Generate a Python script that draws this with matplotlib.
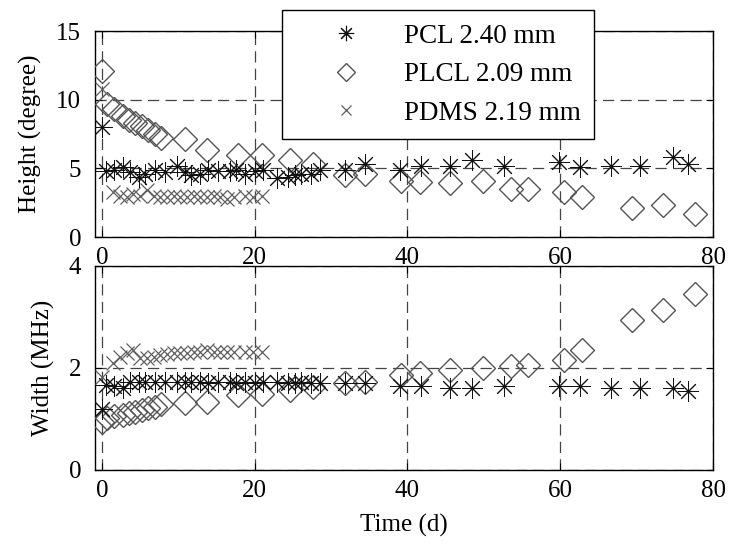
import matplotlib
matplotlib.use("Agg")
import matplotlib.pyplot as plt
from matplotlib.lines import Line2D

plt.rcParams['font.family'] = ['Liberation Serif', 'DejaVu Serif']
plt.rcParams['mathtext.fontset'] = 'stix'

# ---------------- data ----------------
pcl_days = [0, 0.6, 1.6, 2.8, 3.7, 4.8, 5.6, 6.9, 8.2, 9.8, 10.9, 11.7, 12.8, 13.9,
            15.2, 16.8, 17.6, 18.7, 20.0, 21.1, 22.9, 24.4, 25.3, 26.1, 27.4, 28.5,
            31.8, 34.4, 39.0, 41.8, 45.6, 48.4, 52.7, 59.8, 62.6, 66.6, 70.5, 74.7, 76.7]
pcl_height = [8.0, 4.8, 4.9, 5.1, 4.7, 4.4, 4.6, 4.9, 4.7, 5.2, 4.7, 4.5, 4.6, 4.9,
              4.8, 4.8, 4.9, 4.6, 4.8, 4.9, 4.3, 4.4, 4.5, 4.6, 4.6, 4.85,
              4.85, 5.35, 4.85, 5.2, 5.2, 5.6, 5.2, 5.45, 5.1, 5.2, 5.2, 5.8, 5.35]
pcl_width = [1.2, 1.67, 1.65, 1.6, 1.73, 1.72, 1.72, 1.73, 1.72, 1.73, 1.72, 1.72, 1.72, 1.71,
             1.72, 1.72, 1.71, 1.72, 1.71, 1.72, 1.72, 1.71, 1.7, 1.72, 1.7, 1.7,
             1.7, 1.7, 1.65, 1.65, 1.6, 1.6, 1.65, 1.65, 1.65, 1.6, 1.6, 1.6, 1.55]

plcl_days = [0, 0.7, 1.6, 2.7, 3.5, 4.3, 5.2, 6.0, 6.9, 7.8, 10.9, 13.7, 17.8, 21.0,
             24.6, 27.7, 31.8, 34.4, 39.1, 41.6, 45.6, 49.9, 53.5, 55.8, 60.5, 62.9,
             69.4, 73.5, 77.7]
plcl_height = [12.1, 9.7, 9.3, 8.8, 8.5, 8.3, 8.1, 7.8, 7.5, 7.2, 7.1, 6.3, 6.0, 6.0,
               5.6, 5.3, 4.5, 4.6, 4.1, 4.0, 3.9, 4.1, 3.5, 3.5, 3.3, 2.9,
               2.1, 2.3, 1.7]
plcl_width = [0.95, 1.01, 1.05, 1.08, 1.11, 1.14, 1.18, 1.21, 1.24, 1.3, 1.31, 1.34, 1.47, 1.5,
              1.57, 1.63, 1.7, 1.73, 1.86, 1.9, 1.96, 2.0, 2.03, 2.06, 2.16, 2.35,
              2.94, 3.14, 3.46]

pdms_days = [0, 1.5, 2.4, 3.3, 4.1, 5.0, 5.9, 6.8, 7.6, 8.5, 9.4, 10.2, 11.1, 12.0,
             12.9, 13.8, 14.7, 15.5, 16.4, 17.3, 18.7, 19.8, 21.0]
pdms_height = [10.8, 3.3, 3.0, 2.9, 3.1, 3.0, 3.4, 3.0, 2.9, 2.9, 3.0, 2.9, 2.9, 3.0,
               2.9, 2.9, 3.0, 2.9, 2.8, 2.9, 3.0, 2.9, 3.0]
pdms_width = [1.83, 2.09, 2.22, 2.29, 2.35, 2.19, 2.19, 2.22, 2.25, 2.27, 2.29, 2.29, 2.29, 2.32,
              2.32, 2.35, 2.32, 2.32, 2.32, 2.32, 2.32, 2.32, 2.32]

labels = ['PCL 2.40 mm', 'PLCL 2.09 mm', 'PDMS 2.19 mm']
x_ticks = [0, 20, 40, 60, 80]
h_ticks = [0, 5, 10, 15]
w_ticks = [0, 2, 4]

# ---------------- figure ----------------
W, H = 730, 545
fig = plt.figure(figsize=(W / 100, H / 100), dpi=100)

def fx(px):
    return px / W

def fy(py):
    return 1 - py / H

ax1 = fig.add_axes([fx(95), fy(237), fx(713) - fx(95), fy(31) - fy(237)])
ax2 = fig.add_axes([fx(95), fy(470), fx(713) - fx(95), fy(266) - fy(470)])

ast = (8, 2, 0)
dia_col = '#555555'
x_col = '#5f5f5f'

for ax, pcl, plcl, pdms in [(ax1, pcl_height, plcl_height, pdms_height),
                            (ax2, pcl_width, plcl_width, pdms_width)]:
    ax.plot(plcl_days, plcl, linestyle='none', marker='D', ms=12.5, mfc='none',
            mec=dia_col, mew=1.0, zorder=3)
    ax.plot(pdms_days, pdms, linestyle='none', marker='x', ms=9.5, mec=x_col,
            mew=0.9, zorder=3)
    ax.plot(pcl_days, pcl, linestyle='none', marker=ast, ms=15, mec='#111111',
            mew=0.7, zorder=4)
    ax.set_xlim(-0.9, 80)
    ax.set_xticks(x_ticks)
    ax.grid(True, linestyle=(0, (9, 5)), color='#444444', lw=0.9)
    ax.set_axisbelow(True)
    ax.tick_params(direction='in', top=True, right=True, length=5, width=0.8,
                   labelsize=18)
    ax.tick_params(axis='x', pad=7)
    ax.tick_params(axis='y', pad=10)
    for s in ax.spines.values():
        s.set_linewidth(1.0)

ax1.set_ylim(0, 15)
ax1.set_yticks(h_ticks)
ax2.set_ylim(0, 4)
ax2.set_yticks(w_ticks)

ax1.set_ylabel('Height (degree)', fontsize=18, labelpad=10)
ax2.set_ylabel('Width (MHz)', fontsize=18, labelpad=10)
ax2.set_xlabel('Time (d)', fontsize=18, labelpad=9)

handles = [
    Line2D([], [], linestyle='none', marker=ast, ms=11, mec='#111111', mew=0.8),
    Line2D([], [], linestyle='none', marker='D', ms=9.5, mfc='none', mec=dia_col, mew=1.0),
    Line2D([], [], linestyle='none', marker='x', ms=6.5, mec=x_col, mew=0.9),
]
leg = fig.legend(handles, labels, loc='upper left',
                 bbox_to_anchor=(fx(282), fy(10)), bbox_transform=fig.transFigure,
                 fontsize=19.5, numpoints=1, handlelength=3.7, handletextpad=0.3,
                 borderpad=0.5, labelspacing=0.5, borderaxespad=0,
                 fancybox=False, framealpha=1, edgecolor='black')
leg.get_frame().set_linewidth(1.0)
leg.set_zorder(10)

fig.savefig('out.png', dpi=100)
